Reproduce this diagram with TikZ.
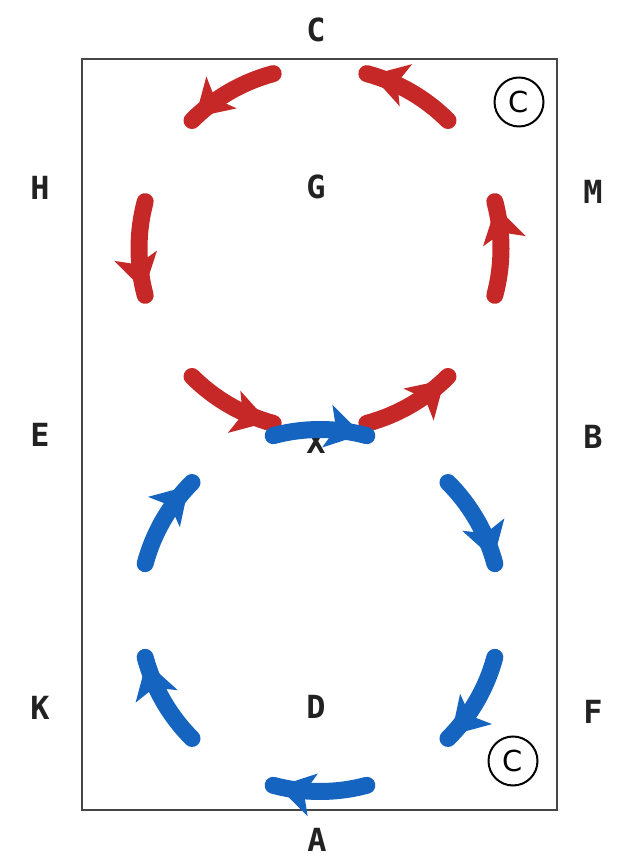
\documentclass[tikz,border=0pt]{standalone}
\usepackage{fontspec}
\newfontfamily\lblfont{DejaVu Sans Mono}
\newfontfamily\cfont{DejaVu Sans}
\usetikzlibrary{arrows.meta,decorations.markings,calc}
\definecolor{arcred}{RGB}{198,40,40}
\definecolor{arcblue}{RGB}{21,101,192}
\definecolor{frame}{RGB}{70,70,70}
\definecolor{lettergray}{RGB}{34,34,34}
\tikzset{
  arcline/.style={line width=17bp, line cap=round,
    postaction={decorate, decoration={markings,
      mark=at position 0.95 with {\arrow{Stealth[length=36bp,width=44bp,inset=9bp,line width=0pt]}}}}},
  redarc/.style={arcline, draw=arcred},
  bluearc/.style={arcline, draw=arcblue},
  letter/.style={text=lettergray, font=\lblfont\bfseries\fontsize{32}{32}\selectfont, inner sep=1bp},
  circc/.style={circle, draw=black, line width=2bp, minimum size=49bp, inner sep=0pt,
    font=\cfont\fontsize{29}{29}\selectfont},
}
\begin{document}
\begin{tikzpicture}[x=1bp,y=1bp]
\useasboundingbox (0,0) rectangle (627,868);
\fill[white] (0,0) rectangle (627,868);
\node[draw=frame, line width=2bp, minimum width=475bp, minimum height=751bp, inner sep=0pt, anchor=south west] (arena) at (81,57) {};
% letters
\node[letter] (lC) at (316,838) {C};
\node[letter] (lA) at (317,28) {A};
\node[letter] (lH) at (40,680) {H};
\node[letter] (lM) at (593,676) {M};
\node[letter] (lE) at (40,433) {E};
\node[letter] (lB) at (593,431) {B};
\node[letter] (lK) at (40,160) {K};
\node[letter] (lF) at (593,156) {F};
\node[letter] (lG) at (316,681) {G};
\node[letter] (lD) at (316,161) {D};
\node[letter] (lX) at (316,426) {X};
% circled C
\node[circc] (c1) at (519,766) {C};
\node[circc] (c2) at (513,107) {C};
% circle centres
\coordinate (rc) at (320,619.5);
\coordinate (bc) at (320,257.5);
% red circle (counter-clockwise)
\foreach \a in {45,105,165,225,285,345}{
  \draw[redarc] ($(rc)+(\a:181)$) arc[start angle=\a, delta angle=30, radius=181];
}
% blue circle (clockwise)
\foreach \a in {105,45,-15,-75,-135,165}{
  \draw[bluearc] ($(bc)+(\a:181)$) arc[start angle=\a, delta angle=-30, radius=181];
}
\end{tikzpicture}
\end{document}
